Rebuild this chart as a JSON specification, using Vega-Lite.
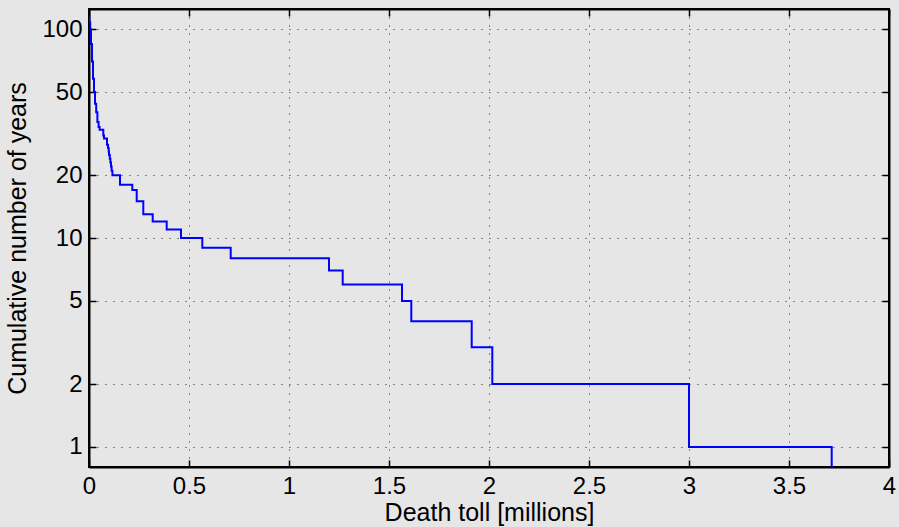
{
  "$schema": "https://vega.github.io/schema/vega-lite/v6.json",
  "autosize": "none",
  "width": 800,
  "height": 458,
  "padding": {"left": 89, "top": 9, "right": 10, "bottom": 60},
  "background": "#e6e6e6",
  "config": {
    "view": {"stroke": "black", "strokeWidth": 2, "fill": "#e6e6e6"},
    "font": "Liberation Sans",
    "axis": {
      "domainColor": "black",
      "domainWidth": 2,
      "tickColor": "black",
      "tickWidth": 1.5,
      "tickSize": -7,
      "labelFont": "Liberation Sans",
      "labelFontSize": 24,
      "labelColor": "black",
      "labelFlush": false,
      "labelOverlap": false,
      "titleFont": "Liberation Sans",
      "titleFontSize": 25,
      "titleFontWeight": "normal",
      "titleColor": "black",
      "gridColor": "black",
      "gridOpacity": 0.85,
      "gridDash": [1, 7],
      "gridWidth": 1
    }
  },
  "data": {
    "values": [
      {"toll": 0.002, "years": 116},
      {"toll": 0.006, "years": 108},
      {"toll": 0.01, "years": 100},
      {"toll": 0.015, "years": 85},
      {"toll": 0.02, "years": 70},
      {"toll": 0.025, "years": 58},
      {"toll": 0.03, "years": 50},
      {"toll": 0.036, "years": 44},
      {"toll": 0.042, "years": 40},
      {"toll": 0.048, "years": 36},
      {"toll": 0.053, "years": 34},
      {"toll": 0.0715, "years": 33},
      {"toll": 0.075, "years": 31},
      {"toll": 0.09, "years": 30},
      {"toll": 0.095, "years": 28},
      {"toll": 0.0985, "years": 27},
      {"toll": 0.1, "years": 26},
      {"toll": 0.104, "years": 25},
      {"toll": 0.107, "years": 24},
      {"toll": 0.11, "years": 23},
      {"toll": 0.113, "years": 22},
      {"toll": 0.117, "years": 21},
      {"toll": 0.155, "years": 20},
      {"toll": 0.2165, "years": 18},
      {"toll": 0.2385, "years": 17},
      {"toll": 0.2715, "years": 15},
      {"toll": 0.3185, "years": 13},
      {"toll": 0.3885, "years": 12},
      {"toll": 0.46, "years": 11},
      {"toll": 0.5665, "years": 10},
      {"toll": 0.7085, "years": 9},
      {"toll": 1.2, "years": 8},
      {"toll": 1.2685, "years": 7},
      {"toll": 1.565, "years": 6},
      {"toll": 1.6115, "years": 5},
      {"toll": 1.9135, "years": 4},
      {"toll": 2.0165, "years": 3},
      {"toll": 3.0, "years": 2},
      {"toll": 3.7135, "years": 1},
      {"toll": 3.7135, "years": 0.5}
    ]
  },
  "layer": [
    {
      "mark": {"type": "line", "interpolate": "step-before", "color": "#0000ff", "strokeWidth": 2, "clip": true},
      "encoding": {
        "x": {
          "field": "toll", "type": "quantitative",
          "scale": {"domain": [0, 4], "nice": false, "zero": false},
          "axis": {"values": [0, 0.5, 1, 1.5, 2, 2.5, 3, 3.5, 4], "format": "~g", "title": "Death toll [millions]", "labelPadding": 14, "titlePadding": 2, "grid": true}
        },
        "y": {
          "field": "years", "type": "quantitative",
          "scale": {"type": "log", "domain": [0.802, 125], "nice": false},
          "axis": {"values": [1, 2, 5, 10, 20, 50, 100], "format": "d", "title": "Cumulative number of years", "labelPadding": 14, "titlePadding": 11, "grid": true}
        },
        "order": {"field": "toll", "type": "quantitative"}
      }
    },
    {
      "mark": {"type": "line", "opacity": 0, "clip": true},
      "encoding": {
        "x": {
          "field": "toll", "type": "quantitative",
          "scale": {"domain": [0, 4], "nice": false, "zero": false},
          "axis": {"orient": "top", "values": [0, 0.5, 1, 1.5, 2, 2.5, 3, 3.5, 4], "labels": false, "title": null, "grid": false}
        },
        "y": {
          "field": "years", "type": "quantitative",
          "scale": {"type": "log", "domain": [0.802, 125], "nice": false},
          "axis": {"orient": "right", "values": [1, 2, 5, 10, 20, 50, 100], "labels": false, "title": null, "grid": false}
        }
      }
    }
  ],
  "resolve": {"axis": {"x": "independent", "y": "independent"}}
}
